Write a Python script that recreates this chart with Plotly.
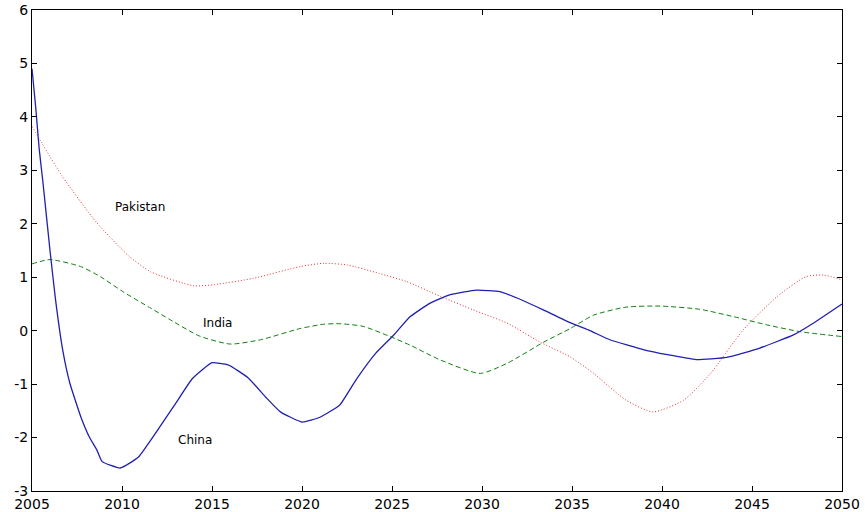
import plotly.graph_objects as go

china_years = [2005.0, 2005.2, 2005.4, 2005.6, 2006.0, 2006.3, 2006.7, 2007.1, 2007.7, 2008.2, 2008.6, 2008.9,
               2009.9, 2010.9, 2012.1, 2013.0, 2013.9, 2014.5, 2015.0, 2015.9, 2017.0, 2018.0, 2018.8, 2020.0,
               2021.0, 2022.1, 2023.0, 2024.1, 2025.1, 2026.0, 2027.1, 2028.2, 2029.7, 2031.0, 2032.3, 2033.4,
               2034.9, 2036.0, 2037.1, 2039.0, 2040.3, 2041.9, 2043.6, 2045.4, 2047.3, 2048.4, 2050.0]
china_values = [4.9, 4.2, 3.4, 2.8, 1.5, 0.6, -0.35, -0.98, -1.6, -2.0, -2.23, -2.45,
                -2.57, -2.37, -1.8, -1.35, -0.9, -0.72, -0.6, -0.64, -0.88, -1.25, -1.52, -1.71,
                -1.62, -1.39, -0.92, -0.42, -0.08, 0.26, 0.51, 0.67, 0.76, 0.73, 0.56, 0.39,
                0.15, 0.0, -0.17, -0.36, -0.45, -0.54, -0.5, -0.33, -0.08, 0.14, 0.5]

india_years = [2005, 2006, 2007.7, 2008.8, 2010.1, 2011.6, 2012.7, 2014.3, 2016.0, 2017.7, 2019.9, 2021.2,
               2022.1, 2023.4, 2024.9, 2026.0, 2027.7, 2029.9, 2031.4, 2033.4, 2034.9, 2036.2, 2038.0,
               2039.9, 2042.1, 2044.0, 2045.8, 2047.7, 2050]
india_values = [1.25, 1.33, 1.2, 1.01, 0.72, 0.42, 0.2, -0.1, -0.25, -0.17, 0.04, 0.12,
                0.13, 0.08, -0.11, -0.27, -0.55, -0.8, -0.61, -0.22, 0.04, 0.29, 0.44,
                0.46, 0.4, 0.26, 0.11, -0.02, -0.11]

pakistan_years = [2005, 2006.7, 2008.6, 2010.4, 2011.6, 2014.0, 2015.1, 2017.3, 2019.9, 2021.2, 2022.5,
                  2024.3, 2025.8, 2027.7, 2029.5, 2031.4, 2033.2, 2034.9, 2036.2, 2038.0, 2039.5, 2041.2,
                  2042.7, 2044.5, 2046.4, 2048.0, 2049.0, 2050]
pakistan_values = [3.82, 2.88, 2.02, 1.39, 1.1, 0.84, 0.86, 0.98, 1.2, 1.26, 1.23,
                   1.07, 0.92, 0.64, 0.39, 0.14, -0.21, -0.49, -0.8, -1.3, -1.52, -1.3,
                   -0.8, 0.01, 0.64, 1.01, 1.04, 0.95]

x_ticks = [2005, 2010, 2015, 2020, 2025, 2030, 2035, 2040, 2045, 2050]
y_ticks = [-3, -2, -1, 0, 1, 2, 3, 4, 5, 6]

labels = ["Pakistan", "India", "China"]
label_x = [2011.0, 2015.3, 2014.05]
label_y = [2.32, 0.14, -2.05]

fig = go.Figure()
fig.add_trace(go.Scatter(x=pakistan_years, y=pakistan_values, mode="lines",
                         line=dict(color="#e03030", width=1, dash="1px,2px", shape="spline", smoothing=0.6)))
fig.add_trace(go.Scatter(x=india_years, y=india_values, mode="lines",
                         line=dict(color="#108010", width=1, dash="5px,3px", shape="spline", smoothing=0.6)))
fig.add_trace(go.Scatter(x=china_years, y=china_values, mode="lines",
                         line=dict(color="#2020b0", width=1.3, shape="spline", smoothing=0.4)))

for t, xx, yy in zip(labels, label_x, label_y):
    fig.add_annotation(x=xx, y=yy, text=t, showarrow=False, xanchor="center", yanchor="middle",
                       font=dict(family="DejaVu Sans", size=12, color="black"))

axis_common = dict(showgrid=False, zeroline=False, showline=True, linecolor="black", linewidth=1,
                   mirror="ticks", ticks="inside", ticklen=5, tickcolor="black", automargin=False,
                   tickfont=dict(family="DejaVu Sans", size=14, color="black"))
fig.update_xaxes(range=[2005, 2050], tickvals=x_ticks, ticktext=[str(v) for v in x_ticks],
                 ticklabelstandoff=0, **axis_common)
fig.update_yaxes(range=[-3, 6], tickvals=y_ticks, ticktext=[str(v) for v in y_ticks],
                 ticklabelstandoff=0, **axis_common)

fig.update_layout(width=865, height=512, margin=dict(l=32, r=23, t=10, b=21),
                  plot_bgcolor="white", paper_bgcolor="white", showlegend=False)

# remove the default body margin so the figure fills the window exactly
fig.write_html("out.html", config={"displayModeBar": False},
               post_script="document.body.style.margin='0';document.body.style.overflow='hidden';")
